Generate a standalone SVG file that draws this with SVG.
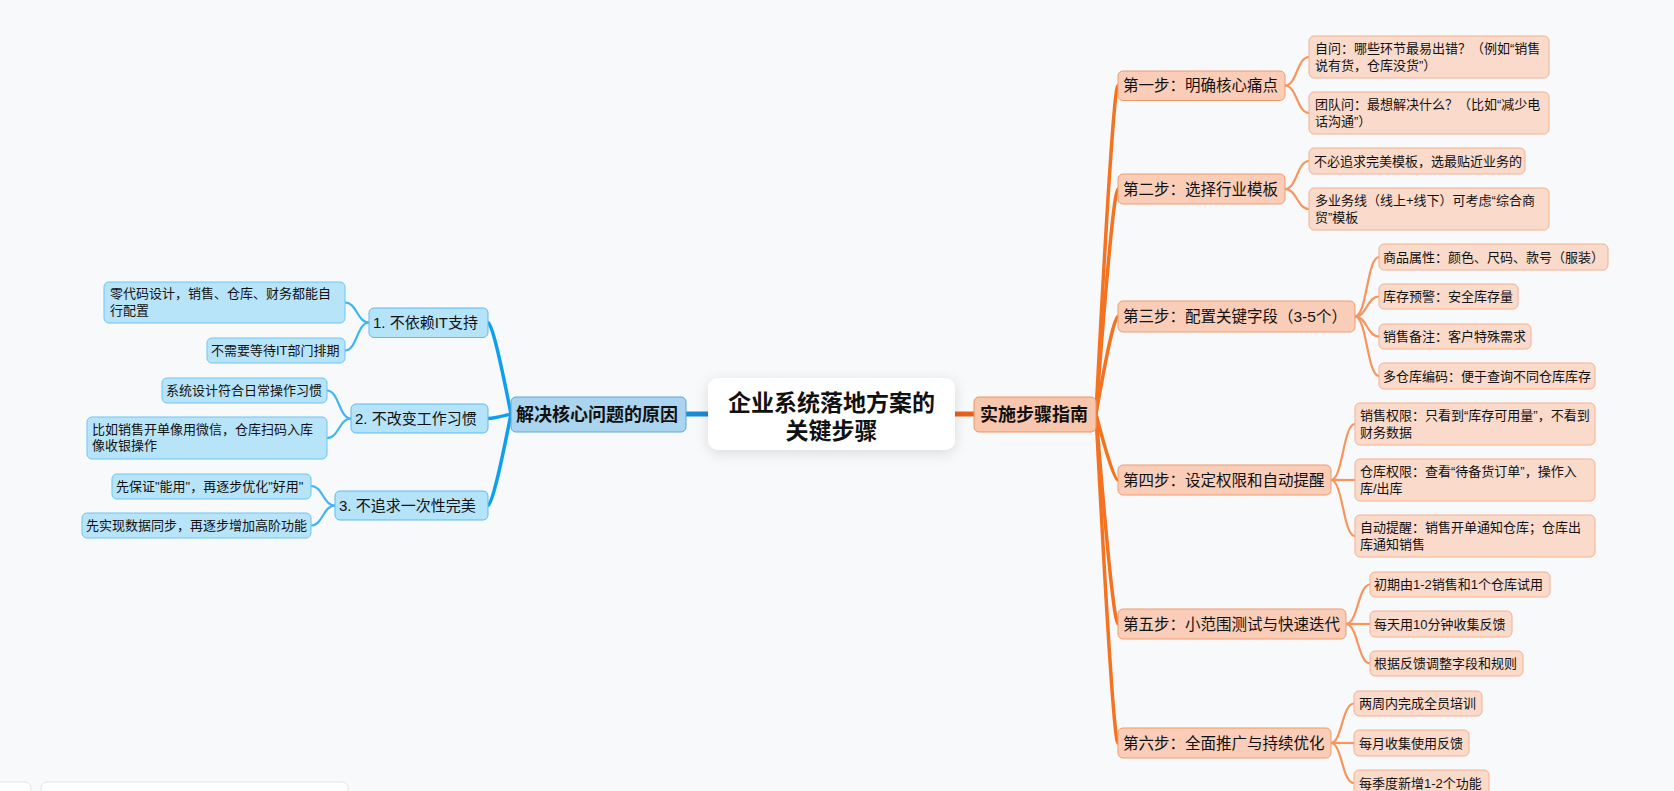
<svg xmlns="http://www.w3.org/2000/svg" width="1674" height="791" viewBox="0 0 1674 791">
<defs>
<filter id="sh" x="-20%" y="-40%" width="140%" height="180%">
<feDropShadow dx="0" dy="3" stdDeviation="7" flood-color="#000" flood-opacity="0.12"/>
</filter>
<style>
text{font-family:"Liberation Sans","Noto Sans CJK SC",sans-serif;fill:#111}
.c{font-size:23px;font-weight:bold;text-anchor:middle}
.m{font-size:18px;font-weight:bold}
.s{font-size:15px}
.s2{font-size:15.5px}
.l{font-size:13px}
.mb{fill:#abd4ee;stroke:#5aa8dc;stroke-width:1}
.sb{fill:#b4e3fa;stroke:#5bbcf0;stroke-width:1}
.lb{fill:#b8e4f9;stroke:#6cc5f2;stroke-width:1}
.mo{fill:#f7c6ad;stroke:#ef935f;stroke-width:1}
.so{fill:#f9cdb8;stroke:#f29b6d;stroke-width:1}
.lo{fill:#f9dacb;stroke:#f6b08e;stroke-width:1}
.tb{fill:none;stroke:#0fa0ec;stroke-width:3.5;stroke-linecap:round}
.to{fill:none;stroke:#f47320;stroke-width:3.5;stroke-linecap:round}
.ub{fill:none;stroke:#3fb6f2;stroke-width:2.2}
.uo{fill:none;stroke:#f8945c;stroke-width:2.2}
</style>
</defs>
<rect x="0" y="0" width="1674" height="791" fill="#f8f9fb"/>
<g id="connectors">
<line x1="686" y1="414" x2="710" y2="414" stroke="#1b8ad2" stroke-width="5"/>
<line x1="953" y1="414" x2="975" y2="414" stroke="#e9601b" stroke-width="5"/>
<path class="tb" d="M511 414 Q493 322.5 488 322.5"/>
<path class="tb" d="M511 414 Q493 418.5 488 418.5"/>
<path class="tb" d="M511 414 Q493 505.5 488 505.5"/>
<path class="to" d="M1096 414 Q1113 85.5 1118 85.5"/>
<path class="to" d="M1096 414 Q1113 189 1118 189"/>
<path class="to" d="M1096 414 Q1113 316.5 1118 316.5"/>
<path class="to" d="M1096 414 Q1113 480 1118 480"/>
<path class="to" d="M1096 414 Q1113 624 1118 624"/>
<path class="to" d="M1096 414 Q1113 743 1118 743"/>
<path class="ub" d="M369 322.5 C357 322.5 357 302.5 345 302.5"/>
<path class="ub" d="M369 322.5 C357 322.5 357 350.5 345 350.5"/>
<path class="ub" d="M351 418.5 C339 418.5 339 390.5 327 390.5"/>
<path class="ub" d="M351 418.5 C339 418.5 339 438 327 438"/>
<path class="ub" d="M335 505.5 C323 505.5 323 486 311 486"/>
<path class="ub" d="M335 505.5 C323 505.5 323 525.5 311 525.5"/>
<path class="uo" d="M1285 85.5 C1297 85.5 1297 57 1309 57"/>
<path class="uo" d="M1285 85.5 C1297 85.5 1297 113 1309 113"/>
<path class="uo" d="M1285 189 C1297 189 1297 161 1309 161"/>
<path class="uo" d="M1285 189 C1297 189 1297 209 1309 209"/>
<path class="uo" d="M1355 316.5 C1367 316.5 1367 257 1379 257"/>
<path class="uo" d="M1355 316.5 C1367 316.5 1367 296.5 1379 296.5"/>
<path class="uo" d="M1355 316.5 C1367 316.5 1367 336.5 1379 336.5"/>
<path class="uo" d="M1355 316.5 C1367 316.5 1367 376 1379 376"/>
<path class="uo" d="M1331 480 C1343 480 1343 424 1355 424"/>
<path class="uo" d="M1331 480 L1355 480"/>
<path class="uo" d="M1331 480 C1343 480 1343 536 1355 536"/>
<path class="uo" d="M1346 624 C1358 624 1358 584.5 1370 584.5"/>
<path class="uo" d="M1346 624 L1370 624"/>
<path class="uo" d="M1346 624 C1358 624 1358 663.5 1370 663.5"/>
<path class="uo" d="M1331 743 C1342 743 1342 703.5 1354 703.5"/>
<path class="uo" d="M1331 743 L1354 743"/>
<path class="uo" d="M1331 743 C1342 743 1342 783 1354 783"/>
</g>
<g id="root"><rect x="708" y="378" width="247" height="72" rx="10" fill="#fff" filter="url(#sh)"/><text class="c" x="831.5" y="411">企业系统落地方案的</text><text class="c" x="831.5" y="439">关键步骤</text></g>
<g id="n-reasons"><rect class="mb" x="511" y="397" width="175" height="35" rx="5"/><text class="m" x="516" y="421">解决核心问题的原因</text></g>
<g id="n-steps"><rect class="mo" x="974" y="397" width="122" height="35" rx="5"/><text class="m" x="980" y="421">实施步骤指南</text></g>
<g id="r1"><rect class="sb" x="369" y="308" width="119" height="29.5" rx="5"/><text class="s" x="373" y="328">1. 不依赖IT支持</text></g>
<g id="r2"><rect class="sb" x="351" y="404" width="137" height="29" rx="5"/><text class="s" x="355" y="424">2. 不改变工作习惯</text></g>
<g id="r3"><rect class="sb" x="335" y="491" width="153" height="29" rx="5"/><text class="s" x="339" y="511">3. 不追求一次性完美</text></g>
<g id="r1a"><rect class="lb" x="104" y="282" width="241" height="41" rx="5"/><text class="l" x="110" y="298">零代码设计，销售、仓库、财务都能自</text><text class="l" x="110" y="315">行配置</text></g>
<g id="r1b"><rect class="lb" x="207" y="338" width="138" height="25" rx="5"/><text class="l" x="211" y="355">不需要等待IT部门排期</text></g>
<g id="r2a"><rect class="lb" x="162" y="378" width="165" height="25" rx="5"/><text class="l" x="166" y="395">系统设计符合日常操作习惯</text></g>
<g id="r2b"><rect class="lb" x="87" y="417" width="240" height="42" rx="5"/><text class="l" x="92" y="434">比如销售开单像用微信，仓库扫码入库</text><text class="l" x="92" y="450">像收银操作</text></g>
<g id="r3a"><rect class="lb" x="112" y="474" width="199" height="25" rx="5"/><text class="l" x="116" y="491">先保证"能用"，再逐步优化"好用"</text></g>
<g id="r3b"><rect class="lb" x="82" y="513" width="229" height="25" rx="5"/><text class="l" x="86" y="530">先实现数据同步，再逐步增加高阶功能</text></g>
<g id="s1"><rect class="so" x="1118" y="71" width="167" height="29.5" rx="5"/><text class="s2" x="1123" y="91">第一步：明确核心痛点</text></g>
<g id="s2"><rect class="so" x="1118" y="174" width="167" height="30" rx="5"/><text class="s2" x="1123" y="194.5">第二步：选择行业模板</text></g>
<g id="s3"><rect class="so" x="1118" y="301" width="237" height="31" rx="5"/><text class="s2" x="1123" y="322">第三步：配置关键字段（3-5个）</text></g>
<g id="s4"><rect class="so" x="1118" y="465" width="213" height="30" rx="5"/><text class="s2" x="1123" y="485.5">第四步：设定权限和自动提醒</text></g>
<g id="s5"><rect class="so" x="1118" y="609" width="228" height="30" rx="5"/><text class="s2" x="1123" y="629.5">第五步：小范围测试与快速迭代</text></g>
<g id="s6"><rect class="so" x="1118" y="728" width="213" height="30" rx="5"/><text class="s2" x="1123" y="748.5">第六步：全面推广与持续优化</text></g>
<g id="s1a"><rect class="lo" x="1309" y="36" width="240" height="42" rx="5"/><text class="l" x="1315" y="53">自问：哪些环节最易出错？（例如“销售</text><text class="l" x="1315" y="70">说有货，仓库没货”）</text></g>
<g id="s1b"><rect class="lo" x="1309" y="92" width="240" height="42" rx="5"/><text class="l" x="1315" y="109">团队问：最想解决什么？（比如“减少电</text><text class="l" x="1315" y="126">话沟通”）</text></g>
<g id="s2a"><rect class="lo" x="1309" y="148" width="216" height="26" rx="5"/><text class="l" x="1314" y="165.5">不必追求完美模板，选最贴近业务的</text></g>
<g id="s2b"><rect class="lo" x="1309" y="188" width="240" height="42" rx="5"/><text class="l" x="1315" y="205">多业务线（线上+线下）可考虑“综合商</text><text class="l" x="1315" y="222">贸”模板</text></g>
<g id="s3a"><rect class="lo" x="1379" y="244" width="229" height="26" rx="5"/><text class="l" x="1383" y="261.5">商品属性：颜色、尺码、款号（服装）</text></g>
<g id="s3b"><rect class="lo" x="1379" y="284" width="139" height="25" rx="5"/><text class="l" x="1383" y="301">库存预警：安全库存量</text></g>
<g id="s3c"><rect class="lo" x="1379" y="324" width="152" height="25" rx="5"/><text class="l" x="1383" y="341">销售备注：客户特殊需求</text></g>
<g id="s3d"><rect class="lo" x="1379" y="363" width="216" height="26" rx="5"/><text class="l" x="1383" y="380.5">多仓库编码：便于查询不同仓库库存</text></g>
<g id="s4a"><rect class="lo" x="1355" y="403" width="240" height="42" rx="5"/><text class="l" x="1360" y="420">销售权限：只看到“库存可用量”，不看到</text><text class="l" x="1360" y="437">财务数据</text></g>
<g id="s4b"><rect class="lo" x="1355" y="459" width="240" height="42" rx="5"/><text class="l" x="1360" y="476">仓库权限：查看“待备货订单”，操作入</text><text class="l" x="1360" y="493">库/出库</text></g>
<g id="s4c"><rect class="lo" x="1355" y="515" width="240" height="42" rx="5"/><text class="l" x="1360" y="532">自动提醒：销售开单通知仓库；仓库出</text><text class="l" x="1360" y="549">库通知销售</text></g>
<g id="s5a"><rect class="lo" x="1370" y="572" width="180" height="25" rx="5"/><text class="l" x="1374" y="589">初期由1-2销售和1个仓库试用</text></g>
<g id="s5b"><rect class="lo" x="1370" y="611" width="142" height="26" rx="5"/><text class="l" x="1374" y="628.5">每天用10分钟收集反馈</text></g>
<g id="s5c"><rect class="lo" x="1370" y="651" width="153" height="25" rx="5"/><text class="l" x="1374" y="668">根据反馈调整字段和规则</text></g>
<g id="s6a"><rect class="lo" x="1354" y="691" width="128" height="25" rx="5"/><text class="l" x="1359" y="708">两周内完成全员培训</text></g>
<g id="s6b"><rect class="lo" x="1354" y="730" width="115" height="26" rx="5"/><text class="l" x="1359" y="747.5">每月收集使用反馈</text></g>
<g id="s6c"><rect class="lo" x="1354" y="770" width="135" height="26" rx="5"/><text class="l" x="1359" y="787.5">每季度新增1-2个功能</text></g>
<g id="toolbar"><rect x="-6" y="782" width="37" height="20" rx="6" fill="#fff" stroke="#e2e4e8"/><rect x="41" y="782" width="307" height="20" rx="6" fill="#fff" stroke="#e2e4e8"/></g>
</svg>
